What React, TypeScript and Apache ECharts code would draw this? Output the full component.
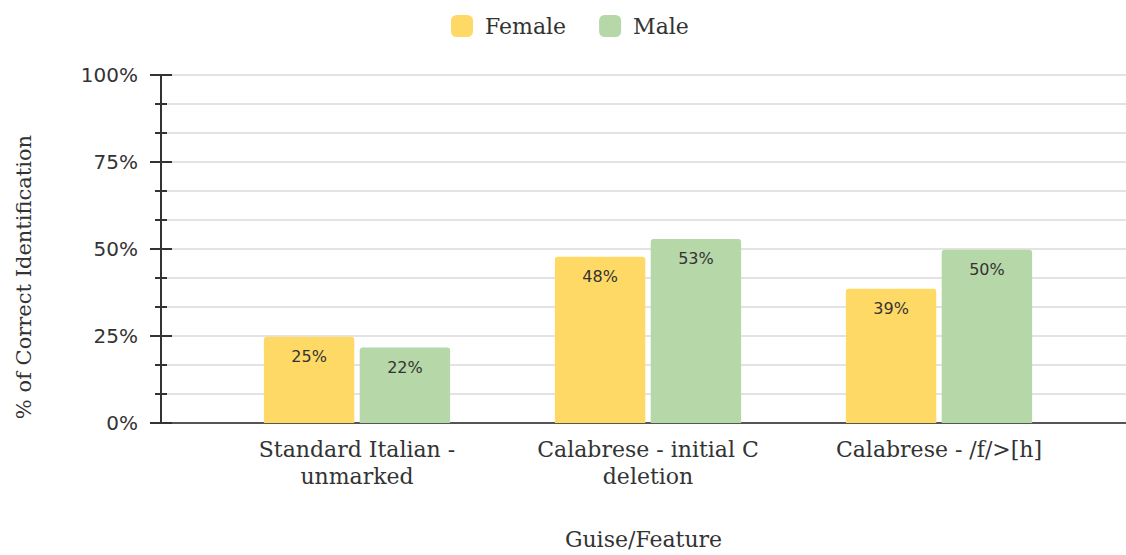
import React, { useEffect, useRef } from "react";
import * as echarts from "echarts";

const categories = ["Standard Italian -\nunmarked", "Calabrese - initial C\ndeletion", "Calabrese - /f/>[h]"];
const female = [24.8, 47.8, 38.6];
const male = [21.7, 52.9, 49.8];
const femaleLabels = ["25%", "48%", "39%"];
const maleLabels = ["22%", "53%", "50%"];
const yTicks = [0, 25, 50, 75, 100];

const SERIF = "'DejaVu Serif', serif";
const SANS = "'DejaVu Sans', sans-serif";

export default function App() {
  const ref = useRef<HTMLDivElement>(null);
  useEffect(() => {
    if (!ref.current) return;
    const chart = echarts.init(ref.current, undefined, { renderer: "svg" });
    const top = 75;
    const bottom = 555 - 423;
    chart.setOption({
      animation: false,
      backgroundColor: "#ffffff",
      legend: {
        top: 10,
        left: 446,
        itemWidth: 22,
        itemHeight: 22,
        itemGap: 33,
        icon: "roundRect",
        textStyle: { fontFamily: SERIF, fontSize: 22, color: "#333", padding: [0, 0, 0, 7] },
        data: ["Female", "Male"],
      },
      grid: [
        { left: 161, right: 0, top, bottom, containLabel: false, outerBoundsMode: "none" },
        { left: 211.5, right: 41.5, top, bottom, containLabel: false, outerBoundsMode: "none" },
      ],
      xAxis: [
        {
          type: "value",
          gridIndex: 0,
          min: 0,
          max: 1,
          axisLine: { show: true, lineStyle: { color: "#555", width: 2 } },
          axisTick: { show: false },
          axisLabel: { show: false },
          splitLine: { show: false },
          name: "Guise/Feature",
          nameLocation: "middle",
          nameGap: 105,
          nameTextStyle: { fontFamily: SERIF, fontSize: 22, color: "#333" },
        },
        {
          type: "category",
          gridIndex: 1,
          data: categories,
          axisLine: { show: false },
          axisTick: { show: false },
          axisLabel: {
            fontFamily: SERIF,
            fontSize: 22,
            color: "#333",
            lineHeight: 27,
            margin: 13,
            interval: 0,
          },
        },
      ],
      yAxis: [
        {
          type: "value",
          gridIndex: 0,
          position: "left",
          offset: 0,
          min: 0,
          max: 100,
          interval: 25,
          axisLine: { show: true, lineStyle: { color: "#333", width: 2 } },
          axisTick: { show: true, length: 11, lineStyle: { color: "#333", width: 2 } },
          minorTick: { show: true, splitNumber: 3, length: 6, lineStyle: { color: "#333", width: 2 } },
          splitLine: { show: true, lineStyle: { color: "#e3e3e3", width: 2 } },
          minorSplitLine: { show: true, lineStyle: { color: "#e3e3e3", width: 2 } },
          axisLabel: {
            fontFamily: SANS,
            fontSize: 20,
            color: "#333",
            margin: 23,
            formatter: (v: number) => (yTicks.includes(v) ? v + "%" : ""),
          },
        },
        {
          type: "value",
          gridIndex: 0,
          position: "left",
          offset: 0,
          min: 0,
          max: 100,
          interval: 25,
          axisLine: { show: false },
          axisTick: { show: true, inside: true, length: 11, lineStyle: { color: "#333", width: 2 } },
          minorTick: { show: true, splitNumber: 3, length: 6, lineStyle: { color: "#333", width: 2 } },
          splitLine: { show: false },
          axisLabel: { show: false },
        },
        {
          type: "value",
          gridIndex: 1,
          min: 0,
          max: 100,
          show: false,
        },
      ],
      graphic: [
        {
          type: "text",
          x: 24,
          y: 277,
          rotation: Math.PI / 2,
          style: {
            text: "% of Correct Identification",
            fontFamily: SERIF,
            fontSize: 21,
            fill: "#333",
            align: "center",
            verticalAlign: "middle",
          },
        },
      ],
      series: [
        {
          name: "Female",
          type: "bar",
          xAxisIndex: 1,
          yAxisIndex: 2,
          data: female,
          barGap: "6%",
          barCategoryGap: "36%",
          itemStyle: { color: "#ffd966", borderRadius: [3, 3, 0, 0] },
          label: {
            show: true,
            position: "insideTop",
            distance: 12,
            fontFamily: SANS,
            fontSize: 16,
            color: "#333",
            formatter: (p: any) => femaleLabels[p.dataIndex],
          },
        },
        {
          name: "Male",
          type: "bar",
          xAxisIndex: 1,
          yAxisIndex: 2,
          data: male,
          itemStyle: { color: "#b6d7a8", borderRadius: [3, 3, 0, 0] },
          label: {
            show: true,
            position: "insideTop",
            distance: 12,
            fontFamily: SANS,
            fontSize: 16,
            color: "#333",
            formatter: (p: any) => maleLabels[p.dataIndex],
          },
        },
      ],
    });
    return () => chart.dispose();
  }, []);
  return <div ref={ref} style={{ width: 1126, height: 555, position: "absolute", left: 0, top: 0 }} />;
}
